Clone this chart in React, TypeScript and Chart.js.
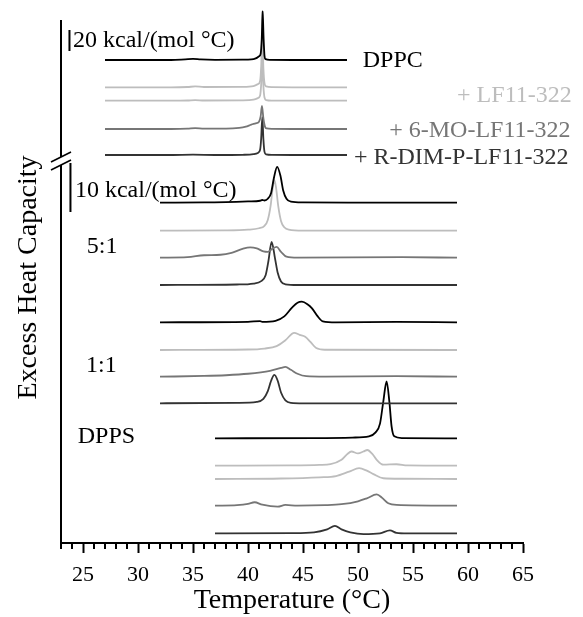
import React, { useEffect, useRef } from "react";
import { Chart, registerables } from "chart.js";

Chart.register(...registerables);

const FONT = '"Liberation Serif", "Times New Roman", serif';
const BLACK = "#000000";
const LIGHT = "#bdbdbd";
const MID = "#767676";
const DARK = "#333333";

// plot units per kcal/(mol °C)
const UPPER_SCALE = 1.05;
const LOWER_SCALE = 4.9;

// ---------- DPPC panel (upper, compressed) ----------
const T_DPPC = [27, 30, 33, 34.3, 35, 35.7, 37, 39.5, 40.3, 40.7, 41.0, 41.15, 41.25, 41.33, 41.42, 41.5, 41.6, 42, 44, 49];
const CP_DPPC = [0, 0, 0, 0.6, 1.0, 0.5, 0.2, 0.3, 0.5, 1.5, 3.5, 6, 20, 46, 20, 4, 0.8, 0.1, 0, 0];

const T_DPPC_LF_A = [27, 33, 34.5, 35.2, 36, 39.5, 40.5, 40.9, 41.1, 41.2, 41.3, 41.4, 41.5, 41.65, 42.2, 44, 49];
const CP_DPPC_LF_A = [0, 0, 0.3, 0.8, 0.3, 0.4, 1.2, 3, 6, 20, 51, 18, 4, 0.8, 0.1, 0, 0];

const T_DPPC_LF_B = [27, 33, 34.5, 35.2, 36, 39.5, 40.5, 40.9, 41.1, 41.2, 41.3, 41.4, 41.5, 41.65, 42.2, 44, 49];
const CP_DPPC_LF_B = [0, 0, 0.2, 0.6, 0.2, 0.3, 1.0, 2.5, 5, 16, 40, 14, 3, 0.6, 0.1, 0, 0];

const T_DPPC_MO = [27, 33, 34.5, 35.2, 36, 38, 39.2, 39.8, 40.3, 40.7, 41.0, 41.15, 41.27, 41.4, 41.55, 41.7, 42.2, 44, 49];
const CP_DPPC_MO = [0, 0, 0.3, 0.8, 0.3, 0.3, 1.0, 2.2, 4.2, 5.4, 7, 12, 22, 10, 2, 0.5, 0.1, 0, 0];

const T_DPPC_RD = [27, 33, 35, 37, 39.5, 40.5, 40.9, 41.1, 41.2, 41.3, 41.4, 41.5, 41.65, 42.2, 44, 49];
const CP_DPPC_RD = [0, 0, 0.3, 0, 0.2, 0.8, 2, 5, 16, 36, 15, 3, 0.6, 0.1, 0, 0];

// ---------- 5:1 DPPC/DPPS ----------
const T_51_LIPID = [32, 36, 38, 40, 41.1, 41.3, 41.5, 41.8, 42.1, 42.35, 42.65, 42.95, 43.2, 43.5, 43.9, 45, 50, 59];
const CP_51_LIPID = [0, 0.05, 0.1, 0.25, 0.4, 0.55, 0.45, 0.8, 2.0, 5.0, 7.3, 5.5, 2.5, 0.8, 0.2, 0.05, 0, 0];

const T_51_LF = [32, 38, 40, 41.0, 41.5, 41.8, 42.05, 42.25, 42.4, 42.55, 42.75, 43.0, 43.3, 43.7, 45, 59];
const CP_51_LF = [0, 0.05, 0.2, 0.5, 1.0, 2.2, 5.0, 8.8, 10.3, 8.8, 5.0, 2.0, 0.7, 0.2, 0, 0];

const T_51_MO = [32, 34.5, 36, 37.5, 38.5, 39.5, 40.2, 40.8, 41.4, 41.8, 42.2, 42.6, 43.0, 43.5, 44.5, 54, 59];
const CP_51_MO = [0, 0.1, 0.5, 0.6, 1.0, 1.8, 2.1, 1.9, 1.3, 1.2, 1.8, 2.2, 1.2, 0.2, 0, 0.1, 0];

const T_51_RD = [32, 39, 40.5, 41.2, 41.6, 41.85, 42.15, 42.45, 42.7, 43.0, 43.4, 44.5, 59];
const CP_51_RD = [0, 0.1, 0.3, 0.8, 2.0, 4.8, 8.8, 5.5, 2.5, 0.7, 0.15, 0, 0];

// ---------- 1:1 DPPC/DPPS ----------
const T_11_LIPID = [32, 40, 41.1, 41.3, 42.5, 43.3, 44.0, 44.5, 44.9, 45.4, 45.8, 46.3, 46.8, 48, 53.5, 59];
const CP_11_LIPID = [0, 0.1, 0.25, 0.1, 0.3, 1.2, 3.0, 4.0, 4.2, 3.7, 2.9, 1.3, 0.2, 0, 0.1, 0];

const T_11_LF = [32, 40, 41.5, 42.6, 43.4, 44.2, 44.7, 45.2, 45.7, 46.2, 47, 59];
const CP_11_LF = [0, 0.1, 0.3, 0.8, 2.0, 3.5, 3.1, 2.7, 1.6, 0.4, 0.05, 0];

const T_11_MO = [32, 36, 38, 40, 42, 43, 43.4, 43.9, 44.5, 45.3, 47, 53.5, 59];
const CP_11_MO = [0, 0.15, 0.3, 0.6, 1.2, 1.8, 2.0, 1.4, 0.6, 0.1, 0, 0.1, 0];

const T_11_RD = [32, 39, 40.8, 41.4, 41.8, 42.1, 42.4, 42.7, 43.0, 43.4, 43.9, 45, 59];
const CP_11_RD = [0, 0.1, 0.3, 0.9, 2.5, 4.6, 5.8, 4.6, 2.2, 0.6, 0.1, 0, 0];

// ---------- DPPS ----------
const T_PS_LIPID = [37, 46, 49.5, 51.0, 51.6, 52.0, 52.3, 52.6, 52.85, 53.05, 53.3, 54, 59];
const CP_PS_LIPID = [0, 0.05, 0.15, 0.4, 1.2, 3.0, 7.5, 11.6, 7.5, 2.5, 0.4, 0.05, 0];

const T_PS_LF_A = [37, 44, 46.5, 47.5, 48.5, 49.0, 49.4, 50.0, 50.5, 50.85, 51.3, 51.7, 52.3, 53.5, 54.5, 59];
const CP_PS_LF_A = [0, 0.05, 0.15, 0.3, 1.2, 2.3, 2.9, 2.5, 2.9, 3.2, 2.4, 1.2, 0.2, 0.3, 0.05, 0];

const T_PS_LF_B = [37, 43, 46.5, 48, 49.2, 50.1, 50.8, 51.4, 52.3, 54, 59];
const CP_PS_LF_B = [0, 0.1, 0.35, 0.6, 1.5, 2.2, 1.7, 1.0, 0.15, 0.05, 0];

const T_PS_MO = [37, 39, 40.0, 40.6, 41.3, 42.7, 43.4, 44.5, 47, 48.5, 50.0, 50.8, 51.7, 52.2, 52.75, 53.5, 59];
const CP_PS_MO = [0, 0.1, 0.35, 0.7, 0.2, -0.2, 0.15, 0, 0.1, 0.3, 0.9, 1.5, 2.3, 1.6, 0.5, 0.15, 0];

const T_PS_RD = [37, 44, 46, 47.2, 47.9, 48.5, 49.3, 50.5, 52, 52.9, 53.5, 54.5, 59];
const CP_PS_RD = [0, 0.05, 0.2, 0.8, 1.5, 0.8, 0.2, -0.15, 0, 0.6, 0.1, 0, 0];

// stacking: baseline of each trace in plot units above the temperature axis
const TRACES = [
  { t: T_DPPC, cp: CP_DPPC, base: 483, k: UPPER_SCALE, color: BLACK },
  { t: T_DPPC_LF_A, cp: CP_DPPC_LF_A, base: 455.7, k: UPPER_SCALE, color: LIGHT },
  { t: T_DPPC_LF_B, cp: CP_DPPC_LF_B, base: 442.3, k: UPPER_SCALE, color: LIGHT },
  { t: T_DPPC_MO, cp: CP_DPPC_MO, base: 414, k: UPPER_SCALE, color: MID },
  { t: T_DPPC_RD, cp: CP_DPPC_RD, base: 388, k: UPPER_SCALE, color: DARK },
  { t: T_51_LIPID, cp: CP_51_LIPID, base: 340.3, k: LOWER_SCALE, color: BLACK },
  { t: T_51_LF, cp: CP_51_LF, base: 312.3, k: LOWER_SCALE, color: LIGHT },
  { t: T_51_MO, cp: CP_51_MO, base: 285.3, k: LOWER_SCALE, color: MID },
  { t: T_51_RD, cp: CP_51_RD, base: 258, k: LOWER_SCALE, color: DARK },
  { t: T_11_LIPID, cp: CP_11_LIPID, base: 220.7, k: LOWER_SCALE, color: BLACK },
  { t: T_11_LF, cp: CP_11_LF, base: 193, k: LOWER_SCALE, color: LIGHT },
  { t: T_11_MO, cp: CP_11_MO, base: 166.3, k: LOWER_SCALE, color: MID },
  { t: T_11_RD, cp: CP_11_RD, base: 139.7, k: LOWER_SCALE, color: DARK },
  { t: T_PS_LIPID, cp: CP_PS_LIPID, base: 104.7, k: LOWER_SCALE, color: BLACK },
  { t: T_PS_LF_A, cp: CP_PS_LF_A, base: 77.3, k: LOWER_SCALE, color: LIGHT },
  { t: T_PS_LF_B, cp: CP_PS_LF_B, base: 64, k: LOWER_SCALE, color: LIGHT },
  { t: T_PS_MO, cp: CP_PS_MO, base: 37.3, k: LOWER_SCALE, color: MID },
  { t: T_PS_RD, cp: CP_PS_RD, base: 9.7, k: LOWER_SCALE, color: DARK },
];

const MAJOR_TICKS = [25, 30, 35, 40, 45, 50, 55, 60, 65];
const MINOR_TICKS = [23, 24, 26, 27, 28, 29, 31, 32, 33, 34, 36, 37, 38, 39, 41, 42, 43, 44, 46, 47, 48, 49, 51, 52, 53, 54, 56, 57, 58, 59, 61, 62, 63, 64];

const LABELS = [
  { text: "20 kcal/(mol °C)", x: 24.09, y: 496.5, align: "left", color: BLACK },
  { text: "DPPC", x: 50.43, y: 476.3, align: "left", color: BLACK },
  { text: "+ LF11-322", x: 69.43, y: 441.3, align: "right", color: LIGHT },
  { text: "+ 6-MO-LF11-322", x: 69.32, y: 406.3, align: "right", color: MID },
  { text: "+ R-DIM-P-LF11-322", x: 69.14, y: 378.7, align: "right", color: DARK },
  { text: "10 kcal/(mol °C)", x: 24.27, y: 346.5, align: "left", color: BLACK },
  { text: "5:1", x: 25.34, y: 289.7, align: "left", color: BLACK },
  { text: "1:1", x: 25.27, y: 171.3, align: "left", color: BLACK },
  { text: "DPPS", x: 24.52, y: 99.7, align: "left", color: BLACK },
];

const SCALE_BARS = [
  { x: 23.77, top: 513, kcal: 20, k: UPPER_SCALE },
  { x: 23.86, top: 380, kcal: 10, k: LOWER_SCALE },
];

const AXIS_TOP = 523;
const BREAK_HI = 386;
const BREAK_LO = 378;

const decor = {
  id: "decor",
  afterDraw(chart: any) {
    const { ctx, chartArea } = chart;
    const xs = chart.scales.x;
    const ys = chart.scales.y;
    const X = (t: number) => xs.getPixelForValue(t);
    const Y = (v: number) => ys.getPixelForValue(v);
    ctx.save();
    ctx.strokeStyle = "#000";
    ctx.lineCap = "butt";
    // broken y axis
    const ax = chartArea.left;
    ctx.lineWidth = 2;
    ctx.beginPath();
    ctx.moveTo(ax, Y(AXIS_TOP));
    ctx.lineTo(ax, Y(BREAK_HI));
    ctx.moveTo(ax, Y(BREAK_LO));
    ctx.lineTo(ax, Y(0) + 1);
    ctx.stroke();
    // break marks
    ctx.lineWidth = 1.6;
    ctx.beginPath();
    ctx.moveTo(X(22.09), Y(381));
    ctx.lineTo(X(23.91), Y(391));
    ctx.moveTo(X(22.09), Y(373));
    ctx.lineTo(X(23.91), Y(383));
    ctx.stroke();
    // minor ticks
    ctx.lineWidth = 2;
    ctx.beginPath();
    const yb = chartArea.bottom;
    for (const t of MINOR_TICKS) {
      const px = Math.round(X(t));
      ctx.moveTo(px, yb);
      ctx.lineTo(px, yb + 6);
    }
    ctx.stroke();
    // scale bars
    ctx.lineWidth = 2;
    ctx.beginPath();
    for (const b of SCALE_BARS) {
      ctx.moveTo(X(b.x), Y(b.top));
      ctx.lineTo(X(b.x), Y(b.top - b.kcal * b.k));
    }
    ctx.stroke();
    // labels
    ctx.font = `24px ${FONT}`;
    ctx.textBaseline = "alphabetic";
    for (const l of LABELS) {
      ctx.fillStyle = l.color;
      ctx.textAlign = l.align as CanvasTextAlign;
      ctx.fillText(l.text, X(l.x), Y(l.y));
    }
    ctx.restore();
  },
};

export default function App() {
  const ref = useRef<HTMLCanvasElement | null>(null);
  useEffect(() => {
    if (!ref.current) return;
    const datasets = TRACES.map((tr) => ({
      data: tr.t.map((t, i) => ({ x: t, y: tr.base + tr.cp[i] * tr.k })),
      borderColor: tr.color,
      borderWidth: 1.8,
      pointRadius: 0,
      showLine: true,
      fill: false,
      clip: false as any,
      cubicInterpolationMode: "monotone" as const,
    }));
    const chart = new Chart(ref.current, {
      type: "scatter",
      data: { datasets },
      options: {
        animation: false,
        responsive: false,
        events: [],
        layout: { padding: { top: 12, right: 60, left: 0, bottom: 0 } },
        plugins: { legend: { display: false }, tooltip: { enabled: false } },
        scales: {
          x: {
            type: "linear",
            min: 23,
            max: 65,
            afterBuildTicks: (s: any) => {
              s.ticks = MAJOR_TICKS.map((v) => ({ value: v }));
            },
            afterFit: (s: any) => {
              s.height = 74;
            },
            grid: { drawOnChartArea: false, drawTicks: true, tickLength: 10, tickWidth: 2, tickColor: "#000" },
            border: { display: true, color: "#000", width: 2 },
            ticks: { color: "#000", font: { family: FONT, size: 22 }, padding: 9, maxRotation: 0, autoSkip: false },
            title: { display: true, text: "Temperature (°C)", color: "#000", font: { family: FONT, size: 28 }, padding: { top: 0, bottom: 0 } },
          },
          y: {
            type: "linear",
            min: 0,
            max: 531,
            afterFit: (s: any) => {
              s.width = 61;
            },
            grid: { display: false, drawTicks: false },
            border: { display: false },
            ticks: { display: false },
            title: { display: true, text: "Excess Heat Capacity", color: "#000", font: { family: FONT, size: 28 }, padding: { top: 12, bottom: 0 } },
          },
        },
      },
      plugins: [decor],
    });
    return () => chart.destroy();
  }, []);
  return (
    <div style={{ position: "fixed", left: 0, top: 0, width: 583, height: 617, background: "#fff" }}>
      <canvas ref={ref} width={583} height={617} style={{ width: 583, height: 617, display: "block" }} />
    </div>
  );
}
